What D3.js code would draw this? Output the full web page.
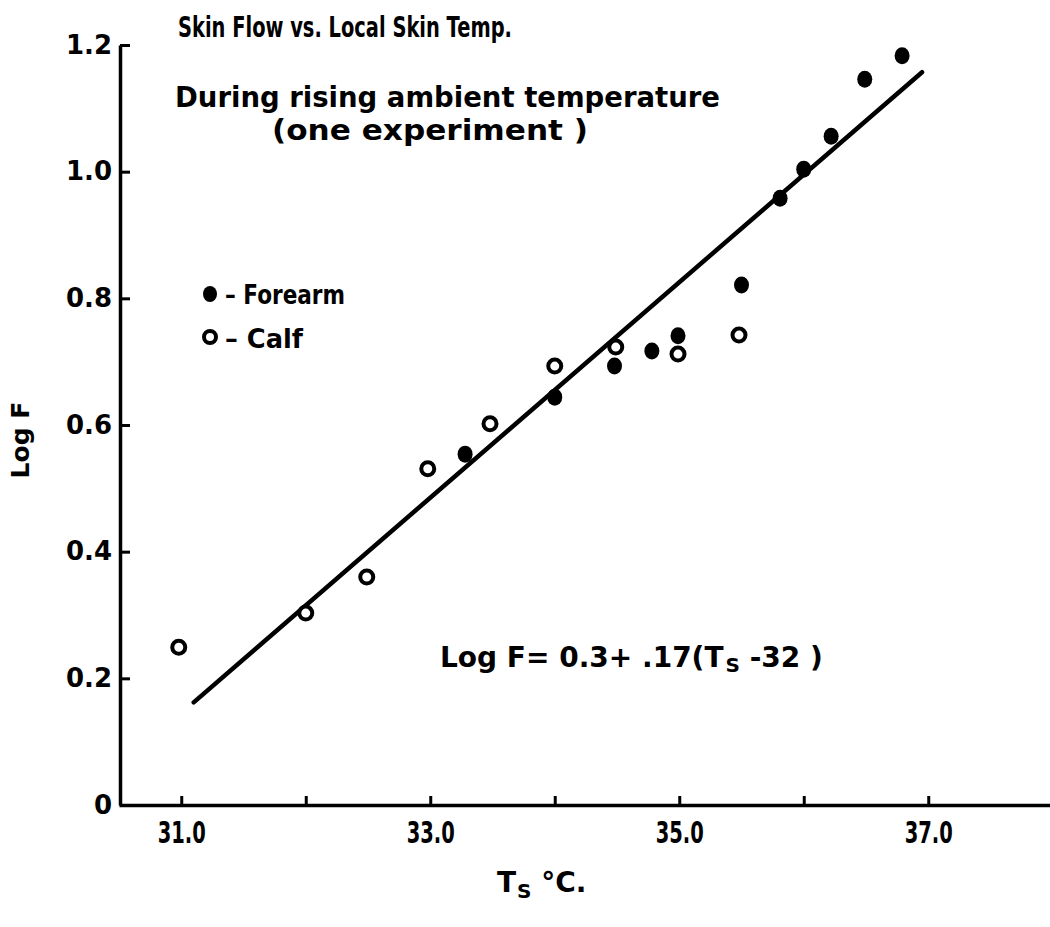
<!DOCTYPE html>
<html>
<head>
<meta charset="utf-8">
<script src="https://cdn.jsdelivr.net/npm/d3@7"></script>
<style>
  html, body { margin: 0; padding: 0; background: #fff; }
  svg { display: block; }
  text { font-family: "DejaVu Sans", sans-serif; font-weight: bold; fill: #000; }
</style>
</head>
<body>
<svg id="chart" width="1050" height="927"></svg>
<script>
// ---- data ----
const forearmTs   = [36.79, 36.49, 36.22, 36.00, 35.81, 35.50, 34.99, 34.78, 34.48, 34.00, 33.28];
const forearmLogF = [1.183, 1.146, 1.056, 1.004, 0.958, 0.821, 0.741, 0.717, 0.693, 0.644, 0.554];
const calfTs      = [30.98, 32.00, 32.49, 32.98, 33.48, 34.00, 34.49, 34.99, 35.48];
const calfLogF    = [0.249, 0.303, 0.360, 0.531, 0.602, 0.693, 0.723, 0.712, 0.742];
// fitted line endpoints as drawn: Log F = 0.3 + .17 (Ts - 32)
const fitTs   = [31.10, 36.95];
const fitLogF = [0.162, 1.157];
const xTickValues = [31, 32, 33, 34, 35, 36, 37];
const xTickLabels = ["31.0", "", "33.0", "", "35.0", "", "37.0"];
const yTickValues = [0, 0.2, 0.4, 0.6, 0.8, 1.0, 1.2];
const yTickLabels = ["0", "0.2", "0.4", "0.6", "0.8", "1.0", "1.2"];

const svg = d3.select("#chart");
const x = d3.scaleLinear().domain([30.5, 38.0]).range([119, 1052.75]);
const y = d3.scaleLinear().domain([0, 1.2]).range([805, 45]);

// x axis
const xAxis = d3.axisBottom(x)
  .tickValues(xTickValues)
  .tickSizeInner(-9).tickSizeOuter(0)
  .tickPadding(27)
  .tickFormat((d, i) => xTickLabels[i]);
const gx = svg.append("g").attr("transform", `translate(0,${y(0)})`).call(xAxis);
gx.select(".domain").attr("stroke", "#000").attr("stroke-width", 3.5);
gx.selectAll(".tick line").attr("stroke", "#000").attr("stroke-width", 3);
gx.selectAll(".tick text").attr("font-size", 31).attr("dy", "0.35em")
  .attr("textLength", d => xTickLabels[xTickValues.indexOf(d)] ? 48 : null)
  .attr("lengthAdjust", "spacingAndGlyphs")
  .style("font-family", '"DejaVu Sans",sans-serif').style("font-weight", "bold");

// y axis
const yAxis = d3.axisLeft(y)
  .tickValues(yTickValues)
  .tickSizeInner(-10).tickSizeOuter(0)
  .tickPadding(8)
  .tickFormat((d, i) => yTickLabels[i]);
const gy = svg.append("g").attr("transform", `translate(${x(30.5) + 1},0)`).call(yAxis);
gy.select(".domain").attr("stroke", "#000").attr("stroke-width", 3.5);
gy.selectAll(".tick line").attr("stroke", "#000").attr("stroke-width", 3);
gy.selectAll(".tick text").attr("font-size", 26)
  .style("font-family", '"DejaVu Sans",sans-serif').style("font-weight", "bold");

// fitted line
svg.append("line")
  .attr("x1", x(fitTs[0])).attr("y1", y(fitLogF[0]))
  .attr("x2", x(fitTs[1])).attr("y2", y(fitLogF[1]))
  .attr("stroke", "#000").attr("stroke-width", 4.5).attr("stroke-linecap", "round");

// calf (open)
svg.append("g").selectAll("circle").data(calfTs).join("circle")
  .attr("cx", d => x(d)).attr("cy", (d, i) => y(calfLogF[i]))
  .attr("r", 6.5).attr("fill", "#fff").attr("stroke", "#000").attr("stroke-width", 4);

// forearm (filled)
svg.append("g").selectAll("ellipse").data(forearmTs).join("ellipse")
  .attr("cx", d => x(d)).attr("cy", (d, i) => y(forearmLogF[i]))
  .attr("rx", 7.5).attr("ry", 8.5).attr("fill", "#000");

// titles
svg.append("text").attr("x", 178).attr("y", 37).attr("font-size", 29)
  .attr("textLength", 334).attr("lengthAdjust", "spacingAndGlyphs")
  .text("Skin Flow  vs.  Local  Skin  Temp.");
svg.append("text").attr("x", 175).attr("y", 107).attr("font-size", 28)
  .attr("textLength", 545).attr("lengthAdjust", "spacingAndGlyphs")
  .text("During  rising  ambient  temperature");
svg.append("text").attr("x", 272).attr("y", 140).attr("font-size", 28)
  .attr("textLength", 316).attr("lengthAdjust", "spacingAndGlyphs")
  .text("(one  experiment )");

// legend
svg.append("ellipse").attr("cx", 210).attr("cy", 294).attr("rx", 7).attr("ry", 8).attr("fill", "#000");
svg.append("text").attr("x", 225).attr("y", 304).attr("font-size", 26)
  .attr("textLength", 120).attr("lengthAdjust", "spacingAndGlyphs").text("– Forearm");
svg.append("circle").attr("cx", 210).attr("cy", 337).attr("r", 6).attr("fill", "#fff")
  .attr("stroke", "#000").attr("stroke-width", 4);
svg.append("text").attr("x", 225).attr("y", 348).attr("font-size", 26)
  .attr("textLength", 78).attr("lengthAdjust", "spacingAndGlyphs").text("– Calf");

// equation
const eq = svg.append("text").attr("x", 440).attr("y", 667).attr("font-size", 28);
eq.append("tspan").text("Log F= 0.3+ .17(T");
eq.append("tspan").attr("font-size", 20).attr("dx", 2).attr("dy", 5).text("S");
eq.append("tspan").attr("dy", -5).text("  -32 )");

// axis titles
const xt = svg.append("text").attr("x", 497).attr("y", 892).attr("font-size", 28);
xt.append("tspan").text("T");
xt.append("tspan").attr("font-size", 20).attr("dx", 1).attr("dy", 6).text("S");
xt.append("tspan").attr("dy", -6).text("  °C.");

svg.append("text").attr("transform", "translate(29,440) rotate(-90)")
  .attr("text-anchor", "middle").attr("font-size", 25).text("Log F");
</script>
</body>
</html>
